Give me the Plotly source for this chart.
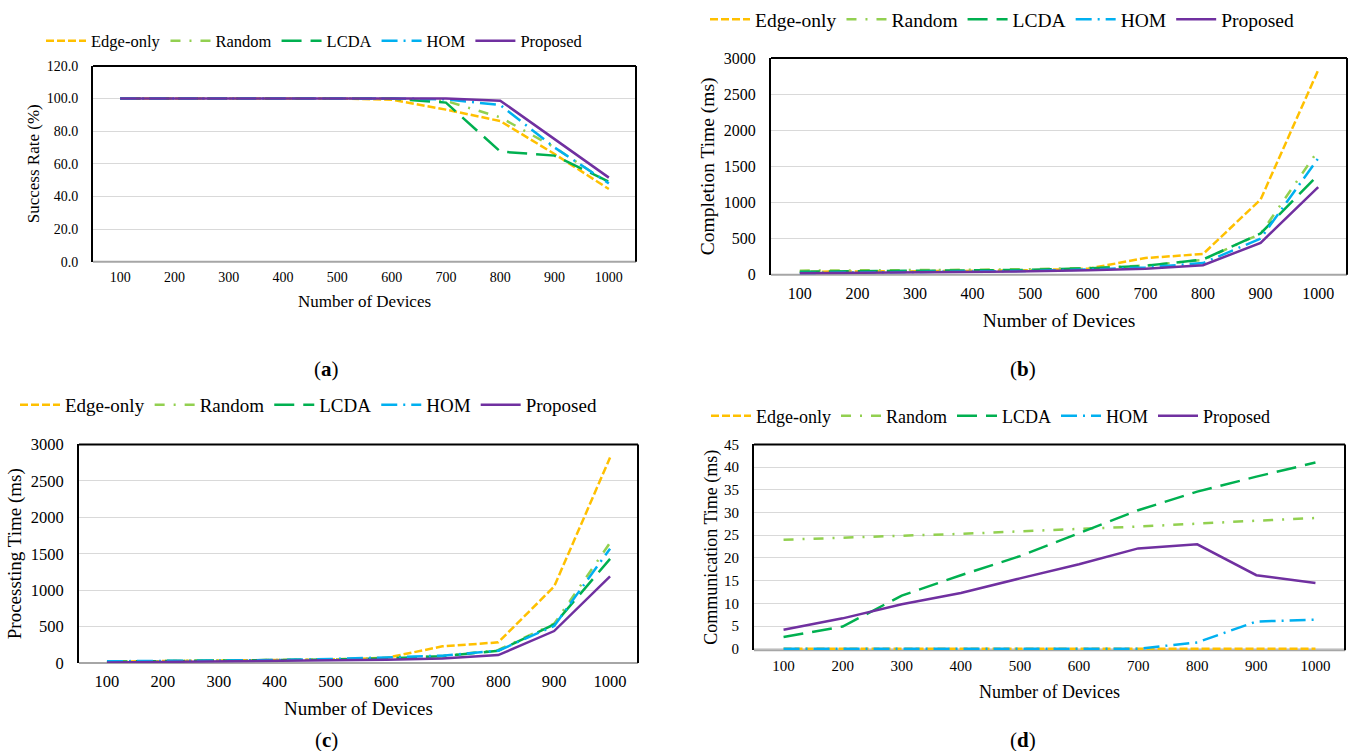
import plotly.graph_objects as go

# ---------------- data ----------------
devices = ["100", "200", "300", "400", "500", "600", "700", "800", "900", "1000"]
series_names = ["Edge-only", "Random", "LCDA", "HOM", "Proposed"]

# (a) Success Rate (%)
success_edge = [100, 100, 100, 100, 100, 99.3, 93.2, 86.2, 66.0, 44.5]
success_random = [100, 100, 100, 100, 100, 100, 98.5, 88.5, 70.0, 48.0]
success_lcda = [100, 100, 100, 100, 100, 100, 97.5, 67.5, 65.0, 49.0]
success_hom = [100, 100, 100, 100, 100, 100, 99.5, 96.0, 70.0, 48.0]
success_proposed = [100, 100, 100, 100, 100, 100, 100, 98.7, 75.0, 51.5]

# (b) Completion Time (ms)
completion_edge = [40, 42, 46, 52, 62, 82, 230, 285, 1040, 2830]
completion_random = [55, 57, 62, 67, 76, 92, 125, 205, 565, 1720]
completion_lcda = [40, 45, 50, 56, 66, 86, 122, 210, 570, 1380]
completion_hom = [22, 28, 34, 42, 52, 70, 100, 160, 500, 1610]
completion_proposed = [20, 25, 30, 36, 46, 60, 80, 130, 440, 1210]

# (c) Processing Time (ms)
processing_edge = [20, 25, 30, 36, 50, 72, 230, 285, 1050, 2820]
processing_random = [20, 25, 31, 40, 50, 66, 96, 180, 540, 1650]
processing_lcda = [20, 25, 31, 40, 50, 66, 95, 170, 530, 1430]
processing_hom = [25, 30, 35, 42, 56, 76, 102, 170, 510, 1570]
processing_proposed = [10, 15, 20, 26, 35, 45, 65, 110, 440, 1190]

# (d) Communication Time (ms)
comm_edge = [0, 0, 0, 0, 0, 0, 0, 0, 0, 0]
comm_random = [24.0, 24.5, 24.9, 25.3, 25.9, 26.4, 26.9, 27.6, 28.2, 28.8]
comm_lcda = [2.6, 4.9, 11.7, 16.2, 20.4, 25.5, 30.5, 34.6, 37.9, 41.0]
comm_hom = [0, 0, 0, 0, 0, 0, 0, 1.4, 6.0, 6.4]
comm_proposed = [4.2, 6.7, 9.8, 12.3, 15.5, 18.6, 22.1, 23.0, 16.2, 14.5]

y_titles = ["Success Rate (%)", "Completion Time (ms)", "Processting Time (ms)", "Communication Time (ms)"]
x_title = "Number of Devices"
panel_labels = ["(<b>a</b>)", "(<b>b</b>)", "(<b>c</b>)", "(<b>d</b>)"]

# ---------------- styles ----------------
colors = ["#FFC000", "#92D050", "#00B050", "#00B0F0", "#7030A0"]
dashes = ["8px,3px", "10px,9px,2px,9px", "20px,9px", "16px,6px,2px,6px", "solid"]
FONT = "Liberation Serif, Times New Roman, serif"
W, H = 1349, 751


def px(x):
    return x / W


def py(y):
    return 1 - y / H


panels = [
    dict(vals=[success_edge, success_random, success_lcda, success_hom, success_proposed],
         box=(93, 636, 65, 261), yrange=[0, 120], ymin=0, dtick=20, fmt=".1f",
         tick=14, title=17, leg=16.5, legtext=93, legy=41, label=(326, 368),
         ystand=3, xstand=11, tstand=5),
    dict(vals=[completion_edge, completion_random, completion_lcda, completion_hom, completion_proposed],
         box=(771, 1347, 57, 274), yrange=[0, 3000], ymin=0, dtick=500, fmt="d",
         tick=16, title=19.5, leg=19.5, legtext=757, legy=19, label=(1023, 368),
         ystand=4, xstand=12, tstand=7),
    dict(vals=[processing_edge, processing_random, processing_lcda, processing_hom, processing_proposed],
         box=(79, 638, 444, 663), yrange=[0, 3000], ymin=0, dtick=500, fmt="d",
         tick=16.5, title=19, leg=19, legtext=67, legy=405, label=(326, 740),
         ystand=4, xstand=12, tstand=6),
    dict(vals=[comm_edge, comm_random, comm_lcda, comm_hom, comm_proposed],
         box=(754, 1345, 444, 650), yrange=[0, 45], ymin=-0.3, dtick=5, fmt="d",
         tick=15, title=18, leg=18, legtext=758, legy=416, label=(1023, 740),
         ystand=2, xstand=12, tstand=5),
]

fig = go.Figure()
shapes = []
annotations = []
layout = dict(
    width=W, height=H,
    margin=dict(l=0, r=0, t=0, b=0),
    paper_bgcolor="white", plot_bgcolor="white",
    font=dict(family=FONT, color="black"),
    showlegend=True,
)

for i, p in enumerate(panels):
    n = "" if i == 0 else str(i + 1)
    xa, ya = "x" + n, "y" + n
    leg = "legend" + n
    for j, name in enumerate(series_names):
        fig.add_trace(go.Scatter(
            x=devices, y=p["vals"][j], name=name, mode="lines",
            line=dict(color=colors[j], width=2.5, dash=dashes[j]),
            xaxis=xa, yaxis=ya, legend=leg,
        ))
    x0, x1, y0, y1 = p["box"]
    layout["xaxis" + n] = dict(
        domain=[px(x0), px(x1)], anchor=ya, type="category",
        range=[-0.5, len(devices) - 0.5],
        showgrid=False, zeroline=False, showline=False,
        ticks="", tickfont=dict(size=p["tick"], family=FONT, color="black"),
        ticklabelstandoff=p["tstand"], layer="below traces",
        title=dict(text=x_title, font=dict(size=p["title"], family=FONT, color="black"), standoff=p["xstand"]),
        automargin=False, fixedrange=True,
    )
    layout["yaxis" + n] = dict(
        domain=[py(y1), py(y0)], anchor=xa,
        range=[p["ymin"], p["yrange"][1]], tick0=0, dtick=p["dtick"], tickformat=p["fmt"],
        showgrid=True, gridcolor="#D9D9D9", gridwidth=1.3, zeroline=False,
        showline=True, linecolor="black", linewidth=2, mirror=False,
        ticks="", tickfont=dict(size=p["tick"], family=FONT, color="black"),
        ticklabelstandoff=10, layer="below traces",
        title=dict(text=y_titles[i], font=dict(size=p["title"], family=FONT, color="black"), standoff=p["ystand"]),
        automargin=False, fixedrange=True,
    )
    # frame: top and right black border, grey baseline at the bottom (drawn below the traces)
    shapes.append(dict(type="line", xref=xa + " domain", yref=ya + " domain", x0=0, x1=1, y0=1, y1=1,
                       line=dict(color="black", width=2)))
    shapes.append(dict(type="line", xref=xa + " domain", yref=ya + " domain", x0=1, x1=1, y0=0, y1=1,
                       line=dict(color="black", width=2)))
    shapes.append(dict(type="line", xref=xa + " domain", yref=ya + " domain", x0=0, x1=1, y0=0, y1=0,
                       line=dict(color="#A6A6A6", width=2), layer="below"))
    layout[leg] = dict(
        orientation="h", x=px(p["legtext"] - 52), xanchor="left", y=py(p["legy"]), yanchor="middle",
        font=dict(size=p["leg"], family=FONT, color="black"),
        bgcolor="rgba(0,0,0,0)", itemwidth=40,
        tracegroupgap=0,
    )
    lx, ly = p["label"]
    annotations.append(dict(text=panel_labels[i], x=px(lx), y=py(ly), xref="paper", yref="paper",
                            showarrow=False, xanchor="center", yanchor="middle",
                            font=dict(size=21, family=FONT, color="black")))

layout["shapes"] = shapes
layout["annotations"] = annotations
fig.update_layout(**layout)

fig.write_html("out.html", config={"displayModeBar": False},
               post_script="document.body.style.margin='0';")
